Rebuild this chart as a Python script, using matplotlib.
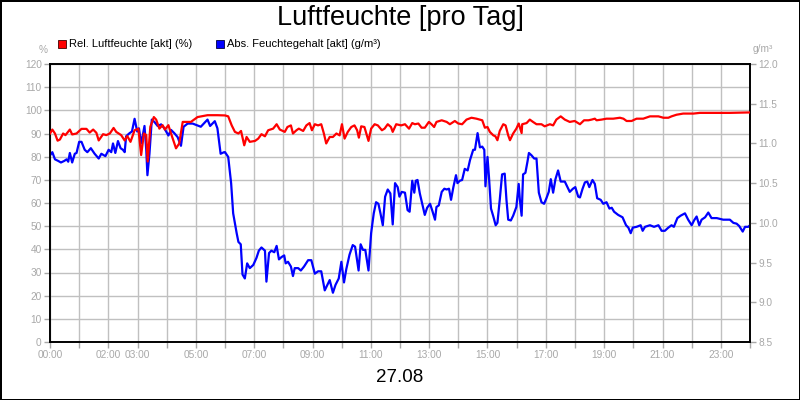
import matplotlib
matplotlib.use('Agg')
import matplotlib.pyplot as plt
from matplotlib.patches import Rectangle

plt.rcParams['font.family'] = ['Liberation Sans', 'DejaVu Sans']

# Rel. Luftfeuchte (%) - Zeit in Stunden
rel_h = [0.0, 0.08, 0.17, 0.26, 0.34, 0.45, 0.53, 0.68, 0.76, 0.91, 1.08, 1.25, 1.36, 1.48, 1.59,
         1.67, 1.82, 1.93, 2.05, 2.18, 2.27, 2.44, 2.56, 2.65, 2.76, 2.90, 3.03, 3.125, 3.22, 3.30,
         3.35, 3.44, 3.56, 3.64, 3.75, 3.86, 3.94, 4.06, 4.15, 4.32, 4.43, 4.55, 4.69, 4.83, 5.06,
         5.40, 5.74,
         6.0, 6.11, 6.23, 6.34, 6.46, 6.55, 6.66, 6.74, 6.85, 7.03, 7.14, 7.25, 7.37, 7.48, 7.65,
         7.77, 7.88, 8.05, 8.14, 8.26, 8.33, 8.45, 8.53, 8.68, 8.79, 8.90, 8.98, 9.08, 9.19, 9.30,
         9.39, 9.47, 9.59, 9.70, 9.82, 9.93, 10.01, 10.10, 10.21, 10.33, 10.44, 10.53, 10.59, 10.67,
         10.78, 10.92, 11.01, 11.13, 11.24, 11.38, 11.47, 11.58, 11.69, 11.75, 11.87, 12.04,
         12.17, 12.31, 12.42, 12.51, 12.63, 12.74, 12.85, 12.99, 13.08, 13.17, 13.25, 13.43, 13.60,
         13.71, 13.88, 14.0, 14.13, 14.28, 14.45, 14.62, 14.82, 14.91, 15.0, 15.08, 15.20, 15.27,
         15.34, 15.42, 15.54, 15.62, 15.71, 15.77, 15.88, 15.99, 16.07, 16.17, 16.19, 16.34, 16.45,
         16.56, 16.68, 16.85, 16.96, 17.14, 17.25, 17.36, 17.51, 17.65, 17.82, 17.99,
         18.17, 18.31, 18.46, 18.57, 18.68, 18.74, 18.91, 19.08, 19.31, 19.54, 19.66, 19.77, 19.94,
         20.11, 20.34, 20.57, 20.86, 21.03, 21.20, 21.31, 21.48, 21.71, 22.06, 22.28, 22.74, 23.31, 24.0]
rel_val = [90, 91.7, 90, 86.9, 87.4, 90, 89.3, 91.7, 89.6, 90, 92, 92, 90.4, 91.7, 90.3,
           87, 89.7, 89.3, 90, 92.4, 90.7, 89.3, 87, 88.9, 86.4, 91.4, 92.1, 80.7, 90, 89.3,
           77.9, 92.9, 97.1, 96, 92.1, 93.6, 91.7, 93.6, 90, 83.6, 85.7, 95, 95, 95, 97.1,
           97.9, 97.9,
           97.8, 97.4, 93.5, 90.7, 90, 91.1, 84.9, 88.5, 86.4, 86.8, 87.8, 89.7, 88.8, 91.4, 92.1,
           94, 91.7, 90.7, 92.8, 93.5, 90, 91.4, 92.1, 91.1, 93.5, 94.5, 91.4, 94, 93.5, 94,
           90, 85.7, 88.5, 88.5, 90, 89.2, 94, 87.8, 90.7, 92.8, 93.5, 91.4, 88.2, 93.1,
           92.8, 86.8, 92.1, 94, 93.5, 91.4, 92.1, 94, 92.8, 90.7, 94, 93.5,
           94, 92.1, 94.5, 94, 94.3, 92.5, 92.5, 95, 94, 92.8, 95, 95.7, 95,
           94, 95.4, 94.3, 94, 96, 96.8, 96.4, 95.7, 92.5, 92.8, 90.7, 89.2, 88.8,
           87.1, 91.1, 94, 93.5, 89.2, 87.1, 90, 92.1, 94.3, 90.2, 94, 94.5, 96,
           95, 94, 94, 93.1, 94, 93.5, 96, 97.4, 96, 95, 95.4,
           94, 95.7, 95.7, 96, 96.4, 95.7, 96, 96.4, 96.4, 96.8, 96.4, 95.4, 95.4,
           96.4, 96.4, 97.4, 97.4, 96.8, 96.8, 97.4, 98.1, 98.6, 98.6, 98.9, 98.9, 98.9, 99.1]

# Abs. Feuchtegehalt (g/m³) - Zeit in Stunden
abs_h = [0.0, 0.08, 0.17, 0.28, 0.375, 0.49, 0.57, 0.625, 0.68, 0.76, 0.85, 0.91, 1.0, 1.08, 1.19,
         1.28, 1.40, 1.53, 1.67, 1.76, 1.90, 2.01, 2.10, 2.16, 2.24, 2.33, 2.42, 2.5, 2.56, 2.61,
         2.73, 2.81, 2.90, 2.99, 3.05, 3.125, 3.18, 3.24, 3.30, 3.34, 3.41, 3.49, 3.58, 3.69, 3.81,
         3.92, 4.06, 4.15, 4.26, 4.375, 4.49, 4.58, 4.72, 4.89, 5.17, 5.40, 5.49, 5.65, 5.74, 5.85,
         5.97,
         6.0, 6.11, 6.21, 6.28, 6.40, 6.46, 6.54, 6.60, 6.68, 6.76, 6.85, 6.97, 7.08, 7.16, 7.25,
         7.37, 7.42, 7.51, 7.59, 7.69, 7.77, 7.85, 7.94, 8.03, 8.08, 8.16, 8.26, 8.33, 8.39, 8.51,
         8.60, 8.71, 8.85, 8.96, 9.08, 9.19, 9.30, 9.42, 9.51, 9.59, 9.70, 9.79, 9.90, 9.99, 10.08,
         10.16, 10.27, 10.38, 10.46, 10.58, 10.65, 10.73, 10.81, 10.92, 11.01, 11.10, 11.18, 11.26,
         11.33, 11.41, 11.49, 11.58, 11.67, 11.75, 11.83, 11.92, 11.98, 12.06,
         12.17, 12.26, 12.33, 12.42, 12.49, 12.54, 12.60, 12.68, 12.76, 12.85, 12.93, 13.03, 13.11,
         13.20, 13.25, 13.33, 13.43, 13.52, 13.60, 13.68, 13.75, 13.83, 13.92, 13.97, 14.05, 14.13,
         14.22, 14.32, 14.40, 14.51, 14.57, 14.66, 14.74, 14.82, 14.89, 14.93, 15.0, 15.05, 15.12,
         15.20, 15.28, 15.34, 15.42, 15.50, 15.59, 15.65, 15.71, 15.80, 15.88, 15.99, 16.07, 16.11,
         16.17, 16.22, 16.30, 16.37, 16.42, 16.51, 16.60, 16.68, 16.76, 16.85, 16.94, 17.02, 17.10,
         17.17, 17.25, 17.33, 17.42, 17.51, 17.65, 17.82, 17.93, 18.01, 18.11,
         18.17, 18.26, 18.34, 18.42, 18.49, 18.60, 18.68, 18.76, 18.88, 18.97, 19.08, 19.18, 19.26,
         19.34, 19.48, 19.63, 19.75, 19.83, 19.91, 19.98, 20.11, 20.25, 20.32, 20.40, 20.57, 20.71,
         20.86, 20.97, 21.08, 21.20, 21.31, 21.39, 21.51, 21.62, 21.77, 21.88, 22.0, 22.08, 22.17,
         22.26, 22.34, 22.46, 22.57, 22.68, 22.86, 23.08, 23.31, 23.43, 23.54, 23.63, 23.75, 23.83,
         23.94, 24.0]
abs_val = [10.85, 10.89, 10.80, 10.78, 10.76, 10.78, 10.80, 10.77, 10.88, 10.76, 10.87, 10.88, 11.02,
           11.02, 10.92, 10.89, 10.94, 10.87, 10.81, 10.87, 10.84, 10.92, 10.89, 11.00, 10.88, 11.03,
           10.94, 10.92, 10.89, 11.09, 11.13, 11.15, 11.31, 11.15, 11.19, 11.00, 11.10, 11.22, 10.92,
           10.60, 10.87, 11.30, 11.27, 11.22, 11.24, 11.19, 11.10, 11.17, 11.13, 11.08, 10.97, 11.21,
           11.25, 11.25, 11.21, 11.30, 11.22, 11.28, 11.19, 10.87, 10.89,
           10.89, 10.83, 10.50, 10.12, 9.87, 9.76, 9.73, 9.35, 9.30, 9.49, 9.43, 9.47, 9.56, 9.65,
           9.69, 9.65, 9.26, 9.62, 9.65, 9.63, 9.71, 9.54, 9.57, 9.59, 9.49, 9.51, 9.45, 9.33, 9.43,
           9.43, 9.40, 9.45, 9.53, 9.53, 9.36, 9.39, 9.39, 9.15, 9.22, 9.28, 9.12, 9.22, 9.30, 9.51,
           9.25, 9.42, 9.60, 9.72, 9.70, 9.40, 9.73, 9.66, 9.66, 9.40, 9.87, 10.12, 10.26, 10.24,
           10.12, 9.97, 10.33, 10.42, 10.37, 9.98, 10.50, 10.45, 10.33, 10.39,
           10.38, 10.16, 10.14, 10.53, 10.38, 10.53, 10.54, 10.37, 10.24, 10.10, 10.19, 10.24, 10.15,
           10.04, 10.20, 10.22, 10.39, 10.43, 10.42, 10.43, 10.29, 10.45, 10.60, 10.50, 10.53, 10.54,
           10.68, 10.66, 10.79, 10.92, 10.92, 11.13, 10.95, 10.96, 10.92, 10.46, 10.83, 10.58, 10.18,
           10.08, 9.97, 10.00, 10.29, 10.61, 10.62, 10.29, 10.04, 10.03, 10.09, 10.20, 10.49, 10.29,
           10.09, 10.61, 10.63, 10.77, 10.88, 10.85, 10.81, 10.81, 10.38, 10.26, 10.24, 10.31, 10.39,
           10.55, 10.38, 10.55, 10.66, 10.52, 10.52, 10.39, 10.43, 10.45, 10.33,
           10.32, 10.43, 10.51, 10.52, 10.45, 10.54, 10.49, 10.31, 10.29, 10.24, 10.26, 10.18, 10.19,
           10.14, 10.10, 10.07, 9.97, 9.94, 9.87, 9.94, 9.95, 9.97, 9.90, 9.95, 9.97, 9.95,
           9.97, 9.90, 9.90, 9.94, 9.97, 9.95, 10.06, 10.09, 10.12, 10.04, 9.97, 10.03, 10.08,
           9.97, 10.04, 10.07, 10.13, 10.06, 10.06, 10.04, 10.04, 10.00, 9.99, 9.96, 9.89, 9.95,
           9.95, 9.97]

hour_labels = {0: '00:00', 2: '02:00', 3: '03:00', 5: '05:00', 7: '07:00', 9: '09:00', 11: '11:00',
               13: '13:00', 15: '15:00', 17: '17:00', 19: '19:00', 21: '21:00', 23: '23:00'}
left_ticks = list(range(0, 121, 10))
right_ticks = [8.5, 9.0, 9.5, 10.0, 10.5, 11.0, 11.5, 12.0]

GRAU = '#a8a8a8'
GRID = '#c0c0c0'

fig = plt.figure(figsize=(8, 4), dpi=100)
fig.patch.set_edgecolor('black')
fig.patch.set_linewidth(2)

ax = fig.add_axes([0.0625, 0.145, 0.875, 0.695])
ax2 = ax.twinx()
ax3 = ax.twinx()  # nur damit die rote Linie oben liegt

ax.set_xlim(0, 24)
ax.set_ylim(0, 120)
ax.set_xticks(range(25))
ax.set_xticklabels([hour_labels.get(h, '') for h in range(25)])
ax.set_yticks(left_ticks)
ax.grid(True, color=GRID, linewidth=1.0)
ax.tick_params(colors=GRAU, labelcolor=GRAU, labelsize=7.3, length=4, width=1, pad=2)

ax2.set_ylim(8.5, 12.0)
ax2.set_yticks(right_ticks)
ax2.set_yticklabels(['%.1f' % v for v in right_ticks])
ax2.tick_params(colors=GRAU, labelcolor=GRAU, labelsize=7.3, length=4, width=1, pad=2)
ax2.plot(abs_h, abs_val, color='#0000ff', linewidth=1.6)

ax3.set_ylim(0, 120)
ax3.axis('off')
ax3.plot(rel_h, rel_val, color='#ff0000', linewidth=1.6)

for a in (ax, ax2):
    for s in a.spines.values():
        s.set_color('black')
        s.set_linewidth(1.2)

fig.text(0.5, 0.955, 'Luftfeuchte [pro Tag]', ha='center', va='center', fontsize=19.5)
fig.text(0.5, 0.057, '27.08', ha='center', va='center', fontsize=13.5)
fig.text(0.054, 0.875, '%', ha='center', va='center', fontsize=7.3, color=GRAU)
fig.text(0.954, 0.878, 'g/m³', ha='center', va='center', fontsize=7.3, color=GRAU)

# Legende
for x0, col, txt in [(58, '#ff0000', 'Rel. Luftfeuchte [akt] (%)'),
                     (216, '#0000ff', 'Abs. Feuchtegehalt [akt] (g/m³)')]:
    fig.patches.append(Rectangle((x0 / 800, 1 - 48 / 400), 8 / 800, 8 / 400,
                                 transform=fig.transFigure, facecolor=col,
                                 edgecolor='#400000' if col == '#ff0000' else '#000040',
                                 linewidth=0.6))
    fig.text((x0 + 11) / 800, 1 - 44 / 400, txt, ha='left', va='center', fontsize=8.0)

fig.savefig('out.png', dpi=100)
